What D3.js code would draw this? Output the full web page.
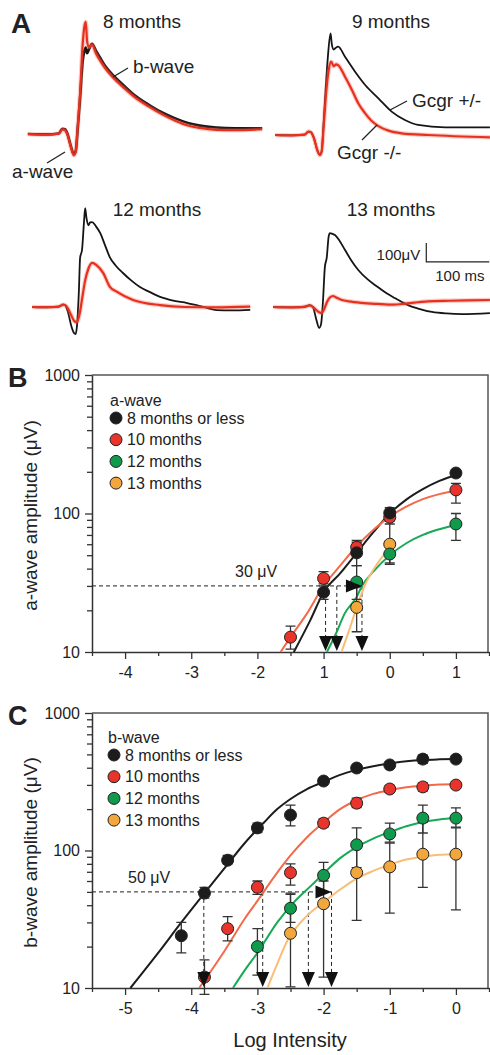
<!DOCTYPE html>
<html>
<head>
<meta charset="utf-8">
<title>ERG Gcgr</title>
<script src="https://cdn.jsdelivr.net/npm/d3@7/dist/d3.min.js"></script>
<style>
  body { margin:0; background:#fff; }
  svg text { font-family: "Liberation Sans", Arial, sans-serif; fill:#222; }
</style>
</head>
<body>
<div id="chart"></div>
<script>
// ---------- panel A: ERG traces, [time ms, amplitude uV] ----------
var trace8Het = [[-59,0],[-30,-2],[-10,3],[-4,28],[0,25],[4,0],[9,-60],[14,-105],[17,-90],[20,20],[24,190],[28,380],[31,440],[33,455],[35,425],[38,445],[43,475],[49,440],[56,400],[63,362],[79,300],[95,250],[110,205],[135,150],[155,112],[175,82],[195,58],[214,44],[240,34],[270,30],[313,30]];
var trace8Ko = [[-59,0],[-30,-3],[-10,2],[-4,24],[0,20],[4,-5],[9,-65],[14,-112],[17,-95],[20,30],[24,220],[28,470],[31,570],[33,590],[35,490],[38,455],[43,470],[49,425],[56,385],[63,350],[79,288],[95,238],[110,195],[135,140],[155,102],[175,70],[195,45],[214,32],[240,22],[270,20],[313,25]];
var trace9Het = [[-57,0],[-30,-2],[-10,2],[-4,18],[0,14],[5,-20],[10,-80],[14,-105],[17,-85],[20,60],[24,280],[27,420],[31,535],[33,480],[36,450],[39,458],[43,465],[54,412],[70,333],[86,263],[107,193],[128,123],[149,79],[170,53],[213,40],[284,40]];
var trace9Ko = [[-57,0],[-30,-2],[-10,2],[-4,18],[0,14],[5,-20],[10,-80],[14,-105],[17,-85],[20,40],[24,220],[28,340],[32,386],[36,362],[40,372],[43,368],[54,307],[65,237],[75,167],[86,114],[96,75],[107,47],[123,23],[144,9],[186,0],[284,-12]];
var trace12Het = [[-52,0],[-30,-2],[-10,2],[-3,12],[0,10],[5,-30],[10,-100],[14,-135],[17,-142],[19,-100],[22,80],[24,260],[27,300],[30,440],[32,520],[34,470],[37,430],[40,445],[43,447],[49,425],[56,389],[63,330],[71,263],[80,220],[92,179],[105,140],[119,105],[135,78],[151,53],[170,35],[194,21],[215,5],[241,-16],[265,-18],[294,-15]];
var trace12Ko = [[-52,0],[-30,-1],[-10,2],[-3,12],[0,10],[5,-10],[10,-45],[15,-75],[19,-80],[23,-40],[27,40],[32,140],[37,200],[43,232],[50,221],[61,177],[71,107],[82,81],[108,37],[151,10],[190,0],[240,-2],[294,2]];
var trace13Het = [[-60,0],[-30,-2],[-10,2],[-2,10],[3,0],[8,-60],[13,-110],[16,-90],[19,30],[22,210],[25,260],[28,370],[30,389],[34,385],[38,379],[45,350],[54,300],[64,245],[75,195],[90,145],[106,105],[120,72],[133,47],[145,25],[154,10],[170,-8],[192,-26],[215,-34],[240,-37],[284,-32]];
var trace13Ko = [[-60,0],[-30,-2],[-10,1],[-2,8],[3,0],[8,-15],[13,-28],[17,-32],[21,-10],[26,30],[30,50],[35,58],[40,50],[49,37],[60,30],[80,22],[106,16],[130,12],[150,18],[170,25],[186,30],[220,33],[250,35],[284,37]];
var traceTitles = ['8 months', '9 months', '12 months', '13 months'];

// ---------- panel B: a-wave amplitude vs log intensity ----------
var seriesNames = ['8 months or less', '10 months', '12 months', '13 months'];
var aLogI = [[-1, -0.5, 0, 1], [-1.5, -1, -0.5, 0, 1], [-0.5, 0, 1], [-0.5, 0]];
var aAmp = [[27, 52, 101, 196], [12.8, 34, 57, 94, 148], [32, 51, 84], [21, 60]];
var aErr = [[[24,30],[42,64],[92,110],[185,205]],
            [[10.5,15.4],[31,38],[52,62],[88,100],[119,165]],
            [[24,42],[44,59],[64,100]],
            [[14,30],[43,84]]];
var aFit = [
  [[-1.45,10],[-1.2,17],[-1,27],[-0.75,37],[-0.5,52],[-0.25,73],[0,100],[0.25,126],[0.5,150],[0.75,172],[1.05,193]],
  [[-1.65,10],[-1.5,12.8],[-1.25,19],[-1,30],[-0.75,42],[-0.5,58],[-0.25,76],[0,95],[0.25,112],[0.5,127],[0.75,138],[1.05,147]],
  [[-0.95,10],[-0.8,14],[-0.68,19],[-0.5,25],[-0.42,30],[-0.25,38],[0,50],[0.25,61],[0.5,70],[0.75,77],[1.05,84]],
  [[-0.73,10],[-0.6,15],[-0.53,19],[-0.38,30],[-0.18,44],[0,57],[0.05,62]]
];
var aCriterion = 30;
var aThresh = [-0.97, -0.8, -0.42];
var aTickLabels = ['-4', '-3', '-2', '1', '0', '1'];

// ---------- panel C: b-wave amplitude vs log intensity ----------
var bLogI = [[-4.15, -3.8, -3.45, -3, -2.5, -2, -1.5, -1, -0.5, 0],
             [-3.8, -3.45, -3, -2.5, -2, -1.5, -1, -0.5, 0],
             [-3, -2.5, -2, -1.5, -1, -0.5, 0],
             [-2.5, -2, -1.5, -1, -0.5, 0]];
var bAmp = [[24, 49, 85, 146, 181, 320, 398, 419, 462, 462],
            [12, 27, 54, 69, 158, 221, 280, 290, 299],
            [20, 38, 66, 110, 132, 172, 172],
            [25, 41, 69, 76, 94, 94]];
var bErr = [[[18,30],[45,54],[80,92],[135,158],[151,214],[305,335],[380,415],[400,440],[430,495],[440,485]],
            [[9,16],[22,33],[48,60],[56,80],[148,170],[205,240],[265,297],[270,310],[285,315]],
            [[12.4,27],[30,48],[50,82],[75,146],[115,158],[134,214],[148,204]],
            [[10.2,49],[12,60],[31,110],[35,113],[54,160],[37,146]]];
var bFit = [
  [[-4.92,10],[-4.5,18],[-4.15,30],[-3.8,49],[-3.5,74],[-3.2,112],[-2.9,160],[-2.7,200],[-2.5,237],[-2.25,280],[-2,315],[-1.75,355],[-1.5,385],[-1.25,410],[-1,430],[-0.75,445],[-0.5,455],[-0.25,460],[0,463]],
  [[-3.88,10],[-3.5,18.5],[-3.19,32],[-3,43],[-2.75,64],[-2.5,92],[-2.25,125],[-2,160],[-1.75,200],[-1.5,232],[-1.25,258],[-1,275],[-0.75,288],[-0.5,296],[-0.25,302],[0,305]],
  [[-3.37,10],[-3.19,13.5],[-3,18],[-2.7,30],[-2.45,42],[-2.18,56],[-2,68],[-1.75,88],[-1.5,106],[-1.25,122],[-1,136],[-0.75,150],[-0.5,161],[-0.25,168],[0,172]],
  [[-2.85,10],[-2.7,15],[-2.55,22],[-2.4,28],[-2.18,36],[-2,42],[-1.75,52],[-1.54,61],[-1.25,71],[-1,79],[-0.75,86],[-0.5,90],[-0.25,93],[0,94]]
];
var bCriterion = 50;
var bThresh = [-3.81, -2.92, -2.23, -1.88];
var bTickLabels = ['-5', '-4', '-3', '-2', '-1', '0'];

var fills = ['#1c1c1c', '#e8342a', '#0f9a4c', '#f2a73c'];
var lines = ['#1c1c1c', '#f36a4a', '#17a955', '#fabd78'];

var svg = d3.select('#chart').append('svg')
  .attr('width', 490).attr('height', 1055);

// ================= panel A =================
var tracePanels = [
  {het: trace8Het, ko: trace8Ko, t0: 65, base: 134, tx: 142, ty: 28},
  {het: trace9Het, ko: trace9Ko, t0: 311, base: 135, tx: 391, ty: 28},
  {het: trace12Het, ko: trace12Ko, t0: 65, base: 307, tx: 157, ty: 216},
  {het: trace13Het, ko: trace13Ko, t0: 311, base: 307, tx: 391, ty: 216}
];
var scales13;
tracePanels.forEach(function(p, i) {
  var x = d3.scaleLinear().domain([0, 100]).range([p.t0, p.t0 + 63]);
  var y = d3.scaleLinear().domain([0, 100]).range([p.base, p.base - 19]);
  if (i === 3) scales13 = {x: x, y: y};
  var line = d3.line().x(function(d){ return x(d[0]); }).y(function(d){ return y(d[1]); })
    .curve(d3.curveMonotoneX);
  svg.append('path').attr('d', line(p.het))
    .attr('fill', 'none').attr('stroke', '#151515').attr('stroke-width', i === 0 ? 2.6 : 1.8);
  svg.append('path').attr('d', line(p.ko))
    .attr('fill', 'none').attr('stroke', 'rgba(240,90,70,0.3)').attr('stroke-width', 4.5);
  svg.append('path').attr('d', line(p.ko))
    .attr('fill', 'none').attr('stroke', '#e8301e').attr('stroke-width', 2.2);
  svg.append('text').attr('x', p.tx).attr('y', p.ty)
    .attr('text-anchor', 'middle').attr('font-size', '19px').text(traceTitles[i]);
});

svg.append('text').attr('x', 11).attr('y', 33).attr('font-size', '28px')
  .attr('font-weight', 'bold').text('A');

// annotations
var notes = [
  {t: 'b-wave', x: 133, y: 73, l: [113, 77, 128, 68]},
  {t: 'a-wave', x: 12, y: 178, l: [47, 163, 65, 152]},
  {t: 'Gcgr +/-', x: 412, y: 107, l: [390, 110, 407, 101]},
  {t: 'Gcgr -/-', x: 337, y: 159, l: [362, 140, 377, 125]}
];
notes.forEach(function(n) {
  svg.append('text').attr('x', n.x).attr('y', n.y).attr('font-size', '19px').text(n.t);
  svg.append('line').attr('x1', n.l[0]).attr('y1', n.l[1]).attr('x2', n.l[2]).attr('y2', n.l[3])
    .attr('stroke', '#222').attr('stroke-width', 1.3);
});

// scale bar (100 uV, 100 ms) in 13 month coordinates
var sbT = 183, sbV = 237;
svg.append('path')
  .attr('d', 'M' + scales13.x(sbT) + ',' + scales13.y(sbV + 100) +
             'L' + scales13.x(sbT) + ',' + scales13.y(sbV) +
             'L' + scales13.x(sbT + 100) + ',' + scales13.y(sbV))
  .attr('fill', 'none').attr('stroke', '#222').attr('stroke-width', 1.2);
svg.append('text').attr('x', scales13.x(sbT) - 6).attr('y', 260)
  .attr('text-anchor', 'end').attr('font-size', '15px').text('100\u03bcV');
svg.append('text').attr('x', scales13.x(sbT) + 9).attr('y', 281)
  .attr('font-size', '15px').text('100 ms');

// ================= panels B and C =================
function drawDose(o) {
  var x = d3.scaleLinear().domain(o.xDomain).range([92, 489]);
  var y = d3.scaleLog().domain([10, 1000]).range([o.bottom, o.top]);
  var g = svg.append('g');

  // frame
  g.append('path')
    .attr('d', 'M92,' + o.top + 'H488V' + o.bottom)
    .attr('fill', 'none').attr('stroke', '#555').attr('stroke-width', 1.5);

  // y axis
  var majorY = [10, 100, 1000];
  var minorY = y.ticks().filter(function(d){ return majorY.indexOf(d) < 0; });
  g.append('g').attr('transform', 'translate(92,0)')
    .call(d3.axisLeft(y).tickValues(minorY).tickSize(5).tickFormat(''))
    .call(function(s){ s.select('.domain').remove(); });
  g.append('g').attr('transform', 'translate(92,0)')
    .call(d3.axisLeft(y).tickValues(majorY).tickSize(7).tickSizeOuter(0).tickPadding(5)
      .tickFormat(d3.format('d')))
    .call(function(s){
      s.selectAll('text').attr('font-size', '16px').attr('fill', '#333');
    });

  // x axis
  var major = d3.range(o.xDomain[0] + 0.5, o.xDomain[1], 1);
  var minor = d3.range(o.xDomain[0], o.xDomain[1] + 0.01, 1);
  g.append('g').attr('transform', 'translate(0,' + o.bottom + ')')
    .call(d3.axisBottom(x).tickValues(minor).tickSize(4).tickFormat(''))
    .call(function(s){ s.select('.domain').remove(); });
  g.append('g').attr('transform', 'translate(0,' + o.bottom + ')')
    .call(d3.axisBottom(x).tickValues(major).tickSize(7).tickSizeOuter(0).tickPadding(8)
      .tickFormat(function(d, i){ return o.tickLabels[i]; }))
    .call(function(s){
      s.selectAll('text').attr('font-size', '16px').attr('fill', '#333');
    });
  g.selectAll('.domain').attr('stroke', '#333').attr('stroke-width', 1.5);
  g.selectAll('.tick line').attr('stroke', '#333').attr('stroke-width', 1.3);

  // criterion line and threshold arrows
  var yc = y(o.criterion);
  var xLast = x(o.thresh[o.thresh.length - 1]);
  g.append('line').attr('x1', 92).attr('x2', xLast).attr('y1', yc).attr('y2', yc)
    .attr('stroke', '#222').attr('stroke-dasharray', '4,3');
  g.append('text').attr('x', o.critX).attr('y', yc - 9).attr('font-size', '16px')
    .text(o.criterion + ' \u03bcV');
  o.thresh.forEach(function(t) {
    var xt = x(t);
    g.append('line').attr('x1', xt).attr('x2', xt).attr('y1', yc).attr('y2', o.bottom - 14)
      .attr('stroke', '#222').attr('stroke-dasharray', '4,3');
  });

  // fitted curves
  var line = d3.line().x(function(d){ return x(d[0]); }).y(function(d){ return y(d[1]); })
    .curve(d3.curveMonotoneX);
  o.fit.forEach(function(f, i) {
    g.append('path').attr('d', line(f)).attr('fill', 'none')
      .attr('stroke', lines[i]).attr('stroke-width', 2);
  });

  // error bars and points, draw oldest first so black ends on top
  [3, 2, 1, 0].forEach(function(i) {
    o.logI[i].forEach(function(li, j) {
      var xe = x(li), e = o.err[i][j];
      g.append('path')
        .attr('d', 'M' + xe + ',' + y(e[0]) + 'V' + y(e[1]) +
                   'M' + (xe - 5) + ',' + y(e[0]) + 'h10' +
                   'M' + (xe - 5) + ',' + y(e[1]) + 'h10')
        .attr('stroke', '#333').attr('stroke-width', 1.3).attr('fill', 'none');
    });
  });
  [3, 2, 1, 0].forEach(function(i) {
    g.selectAll(null).data(o.logI[i]).enter().append('circle')
      .attr('cx', function(d){ return x(d); })
      .attr('cy', function(d, j){ return y(o.amp[i][j]); })
      .attr('r', 6)
      .attr('fill', fills[i]).attr('stroke', '#222').attr('stroke-width', 1);
  });

  // arrows
  o.thresh.forEach(function(t) {
    var xt = x(t), yb = o.bottom - 1;
    g.append('path').attr('d', 'M' + (xt - 6.5) + ',' + (yb - 15) + 'H' + (xt + 6.5) + 'L' + xt + ',' + yb + 'Z')
      .attr('fill', '#111');
  });
  g.append('path').attr('d', 'M' + (xLast - 16) + ',' + (yc - 6.5) + 'V' + (yc + 6.5) + 'L' + xLast + ',' + yc + 'Z')
    .attr('fill', '#111');

  // legend
  g.append('text').attr('x', o.legX).attr('y', o.legY).attr('font-size', '16px').text(o.legTitle);
  seriesNames.forEach(function(n, i) {
    var cy = o.legY + 12 + i * 21.7;
    g.append('circle').attr('cx', o.legX + 6).attr('cy', cy).attr('r', 6)
      .attr('fill', fills[i]).attr('stroke', '#222').attr('stroke-width', 1);
    g.append('text').attr('x', o.legX + 17).attr('y', cy + 5.5).attr('font-size', '16px').text(n);
  });

  // labels
  g.append('text').attr('x', 8).attr('y', o.top + 12).attr('font-size', '27px')
    .attr('font-weight', 'bold').text(o.letter);
  g.append('text').attr('transform', 'translate(37,' + ((o.top + o.bottom) / 2 + 2) + ') rotate(-90)')
    .attr('text-anchor', 'middle').attr('font-size', '19px').text(o.yTitle);
}

drawDose({
  letter: 'B', top: 375, bottom: 652, xDomain: [-4.5, 1.5], tickLabels: aTickLabels,
  logI: aLogI, amp: aAmp, err: aErr, fit: aFit,
  criterion: aCriterion, thresh: aThresh, critX: 235,
  legTitle: 'a-wave', legX: 110, legY: 406, yTitle: 'a-wave amplitude (\u03bcV)'
});
drawDose({
  letter: 'C', top: 713, bottom: 988, xDomain: [-5.5, 0.5], tickLabels: bTickLabels,
  logI: bLogI, amp: bAmp, err: bErr, fit: bFit,
  criterion: bCriterion, thresh: bThresh, critX: 128,
  legTitle: 'b-wave', legX: 108, legY: 743, yTitle: 'b-wave amplitude (\u03bcV)'
});

svg.append('text').attr('x', 290).attr('y', 1047).attr('text-anchor', 'middle')
  .attr('font-size', '20px').text('Log Intensity');
</script>
</body>
</html>
